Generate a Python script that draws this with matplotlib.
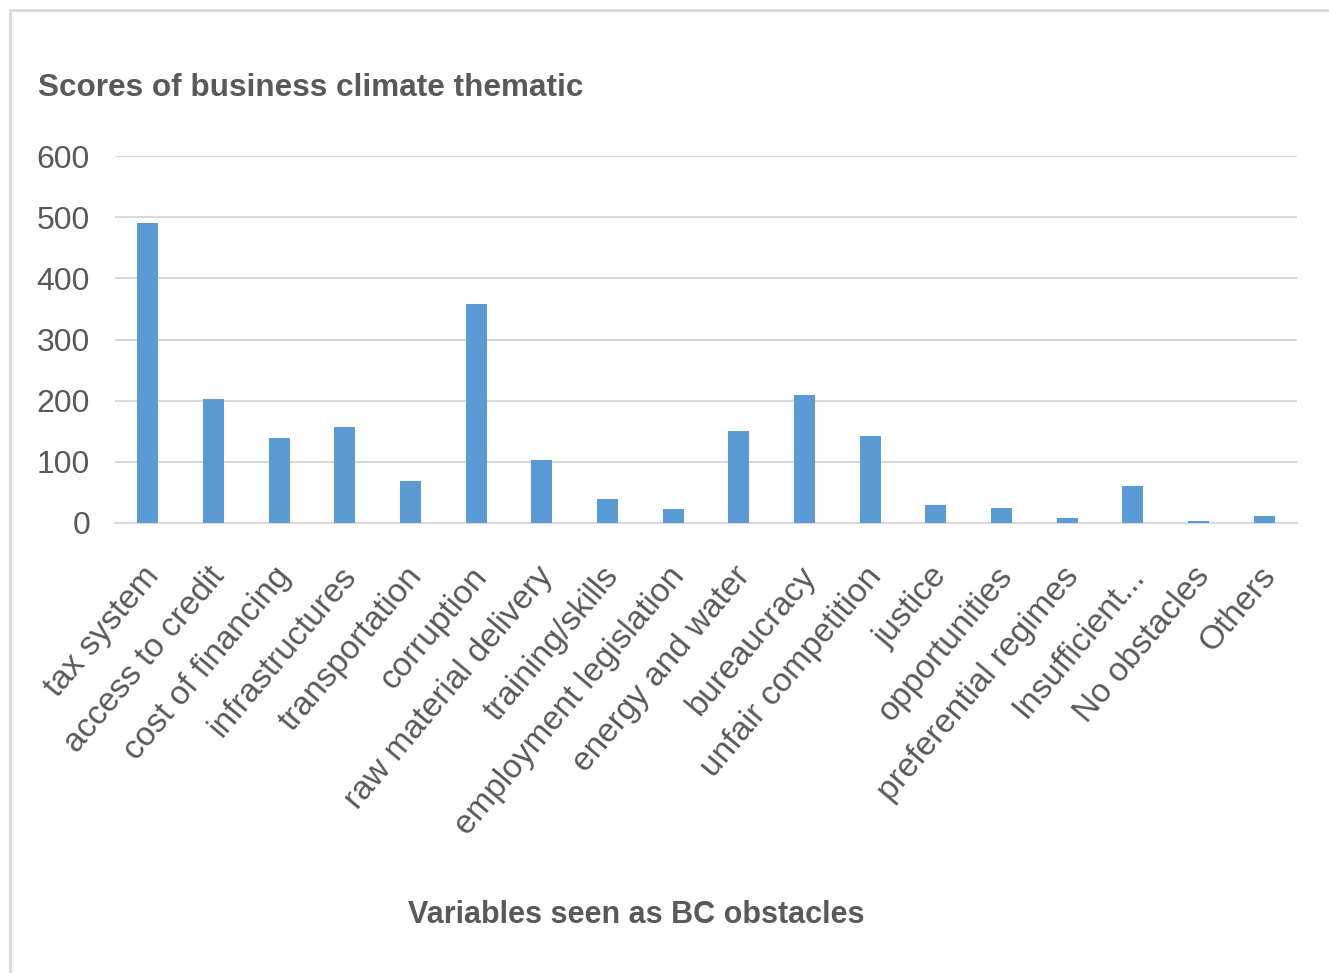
import matplotlib
matplotlib.use("Agg")
import matplotlib.pyplot as plt
import matplotlib.transforms as mtrans
from matplotlib.patches import Rectangle

categories = ["tax system", "access to credit", "cost of financing", "infrastructures",
              "transportation", "corruption", "raw material delivery", "training/skills",
              "employment legislation", "energy and water", "bureaucracy",
              "unfair competition", "justice", "opportunities", "preferential regimes",
              "Insufficient...", "No obstacles", "Others"]
scores = [491, 203, 139, 157, 68, 358, 103, 40, 23, 150, 210, 143, 29, 25, 8, 60, 4, 11]
yticks = [0, 100, 200, 300, 400, 500, 600]

plt.rcParams['font.family'] = ['Liberation Sans', 'DejaVu Sans']
gray = '#595959'
grid = '#d9d9d9'

W, H = 1329, 973
fig = plt.figure(figsize=(W / 100, H / 100), dpi=100)
fig.patches.append(Rectangle((10 / W, -0.1), 1.2, 1 - 10 / H + 0.1, transform=fig.transFigure,
                             fill=False, edgecolor=grid, linewidth=2))

ax = fig.add_axes([115 / W, 1 - 523 / H, (1297 - 115) / W, (523 - 156) / H])
x = list(range(len(categories)))
ax.bar(x, scores, width=0.32, color='#5B9BD5', zorder=3)
ax.set_xlim(-0.5, len(categories) - 0.5)
ax.set_ylim(0, 600)
ax.set_yticks(yticks)
ax.set_yticklabels([str(v) for v in yticks], fontsize=23, color=gray)
ax.yaxis.grid(True, color=grid, linewidth=1.5, zorder=0)
for s in ['top', 'right', 'left']:
    ax.spines[s].set_visible(False)
ax.spines['bottom'].set_color(grid)
ax.spines['bottom'].set_linewidth(1.5)
ax.tick_params(axis='y', length=0, pad=18)
ax.tick_params(axis='x', length=0, pad=8)
ax.set_xticks(x)
ax.set_xticklabels(categories, rotation=50, ha='right', rotation_mode='anchor',
                   fontsize=24, color=gray)
offset = mtrans.ScaledTranslation(-6 / 100, -27 / 100, fig.dpi_scale_trans)
for lbl in ax.get_xticklabels():
    lbl.set_transform(lbl.get_transform() + offset)

fig.text(38 / W, 1 - 88 / H, "Scores of business climate thematic", fontsize=22.7,
         fontweight='bold', color=gray, ha='left', va='center')
fig.text(636 / W, 1 - 915 / H, "Variables seen as BC obstacles", fontsize=22,
         fontweight='bold', color=gray, ha='center', va='center')

fig.savefig("out.png", dpi=100, facecolor='white')
